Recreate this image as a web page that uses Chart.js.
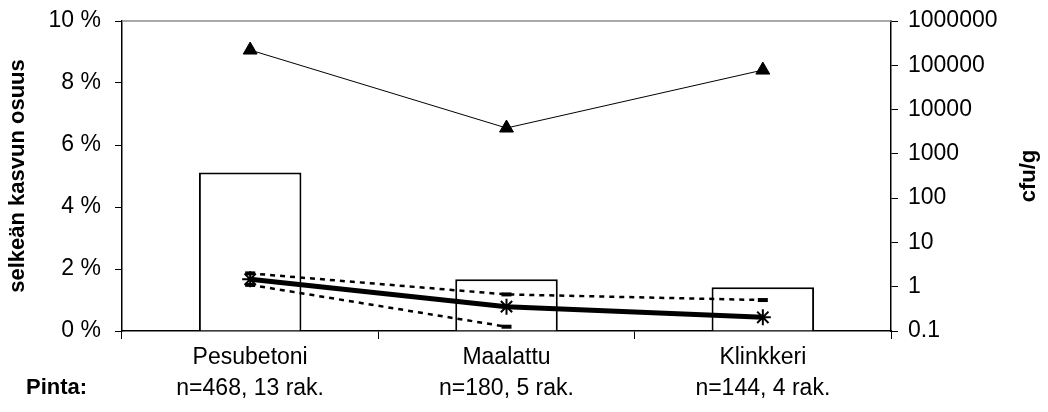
<!DOCTYPE html>
<html>
<head>
<meta charset="utf-8">
<script src="https://cdn.jsdelivr.net/npm/chart.js@4"></script>
<style>
  html, body { margin: 0; padding: 0; background: #fff; }
  #wrap { position: relative; width: 1048px; height: 412px; }
  #pinta { position: absolute; left: 26px; top: 374px; font: bold 22px "Liberation Sans", Arial, sans-serif; color: #000; }
</style>
</head>
<body>
<div id="wrap">
  <canvas id="chart" width="1048" height="412"></canvas>
  <div id="pinta">Pinta:</div>
</div>
<script>
// data
const categories = [
  ['Pesubetoni', 'n=468, 13 rak.'],
  ['Maalattu', 'n=180, 5 rak.'],
  ['Klinkkeri', 'n=144, 4 rak.']
];
const growthShare = [5.11, 1.67, 1.41];          // % (left axis, bars)
const cfuMax = [221000, 3830, 78000];             // triangles (right axis)
const cfuMedian = [1.47, 0.355, 0.204];           // thick line with asterisks
const cfuUpper = [2.0, 0.67, 0.5];                // dashed upper
const cfuLower = [1.1, 0.125, null];              // dashed lower
const leftTicks = [0, 2, 4, 6, 8, 10];
const rightTicks = [0.1, 1, 10, 100, 1000, 10000, 100000, 1000000];

const FONT = '"Liberation Sans", Arial, sans-serif';
const SIZE = 23;

// plot frame top line + right axis title reading bottom-to-top
const framePlugin = {
  id: 'frame',
  afterDraw(chart) {
    const { ctx, chartArea } = chart;
    ctx.save();
    ctx.strokeStyle = '#8c8c8c';
    ctx.lineWidth = 1.5;
    ctx.beginPath();
    ctx.moveTo(chartArea.left, chartArea.top);
    ctx.lineTo(chartArea.right, chartArea.top);
    ctx.stroke();

    ctx.translate(1029, (chartArea.top + chartArea.bottom) / 2);
    ctx.rotate(-Math.PI / 2);
    ctx.fillStyle = '#000';
    ctx.font = 'bold 22px ' + FONT;
    ctx.textAlign = 'center';
    ctx.textBaseline = 'middle';
    ctx.fillText('cfu/g', 0, 0);
    ctx.restore();
  }
};

new Chart(document.getElementById('chart'), {
  type: 'bar',
  data: {
    labels: categories,
    datasets: [
      {
        type: 'line',
        label: 'max',
        data: cfuMax,
        yAxisID: 'y2',
        borderColor: '#000',
        borderWidth: 1,
        pointStyle: 'triangle',
        pointRadius: 8,
        pointBackgroundColor: '#000',
        pointBorderColor: '#000',
        order: 1
      },
      {
        type: 'line',
        label: 'median',
        data: cfuMedian,
        yAxisID: 'y2',
        borderColor: '#000',
        borderWidth: 5,
        pointStyle: 'star',
        pointRadius: 8,
        pointBorderWidth: 2,
        pointBorderColor: '#000',
        order: 2
      },
      {
        type: 'line',
        label: 'upper',
        data: cfuUpper,
        yAxisID: 'y2',
        borderColor: '#000',
        borderWidth: 2.5,
        borderDash: [5, 5],
        pointStyle: 'line',
        pointRadius: 5,
        pointBorderWidth: 4,
        pointBorderColor: '#000',
        order: 3
      },
      {
        type: 'line',
        label: 'lower',
        data: cfuLower,
        yAxisID: 'y2',
        borderColor: '#000',
        borderWidth: 2.5,
        borderDash: [5, 5],
        pointStyle: 'line',
        pointRadius: 5,
        pointBorderWidth: 4,
        pointBorderColor: '#000',
        order: 4
      },
      {
        label: 'selkeän kasvun osuus',
        data: growthShare,
        yAxisID: 'y',
        backgroundColor: '#fff',
        borderColor: '#000',
        borderWidth: 2,
        barPercentage: 0.4,
        categoryPercentage: 1,
        order: 10
      }
    ]
  },
  options: {
    responsive: false,
    animation: false,
    layout: { padding: { top: 21, left: 0, right: 0, bottom: 0 } },
    plugins: {
      legend: { display: false },
      tooltip: { enabled: false }
    },
    scales: {
      x: {
        grid: { offset: true, drawOnChartArea: false, tickLength: 8, color: '#000' },
        border: { color: '#000', width: 1.5 },
        ticks: { color: '#000', font: { family: FONT, size: SIZE, lineHeight: 1.35 }, padding: 3, maxRotation: 0 },
        afterFit: (s) => { s.height = 81; s.paddingLeft = 0; s.paddingRight = 0; }
      },
      y: {
        position: 'left',
        min: 0, max: 10,
        afterBuildTicks: (s) => { s.ticks = leftTicks.map(v => ({ value: v })); },
        grid: { drawOnChartArea: false, tickLength: 7, color: '#000' },
        border: { color: '#000', width: 1.5 },
        ticks: { color: '#000', font: { family: FONT, size: SIZE }, padding: 14, callback: (v) => v + ' %' },
        title: { display: true, text: 'selkeän kasvun osuus', color: '#000', font: { family: FONT, size: 22, weight: 'bold' }, padding: { top: 5 } },
        afterFit: (s) => { s.width = 122; s.paddingTop = 0; s.paddingBottom = 0; }
      },
      y2: {
        type: 'logarithmic',
        position: 'right',
        min: 0.1, max: 1000000,
        afterBuildTicks: (s) => { s.ticks = rightTicks.map(v => ({ value: v })); },
        grid: { drawOnChartArea: false, tickLength: 7, color: '#000' },
        border: { color: '#000', width: 1.5 },
        ticks: { color: '#000', font: { family: FONT, size: SIZE }, padding: 10, callback: (v) => String(v) },
        afterFit: (s) => { s.width = 157; s.paddingTop = 0; s.paddingBottom = 0; }
      }
    }
  },
  plugins: [framePlugin]
});
</script>
</body>
</html>
